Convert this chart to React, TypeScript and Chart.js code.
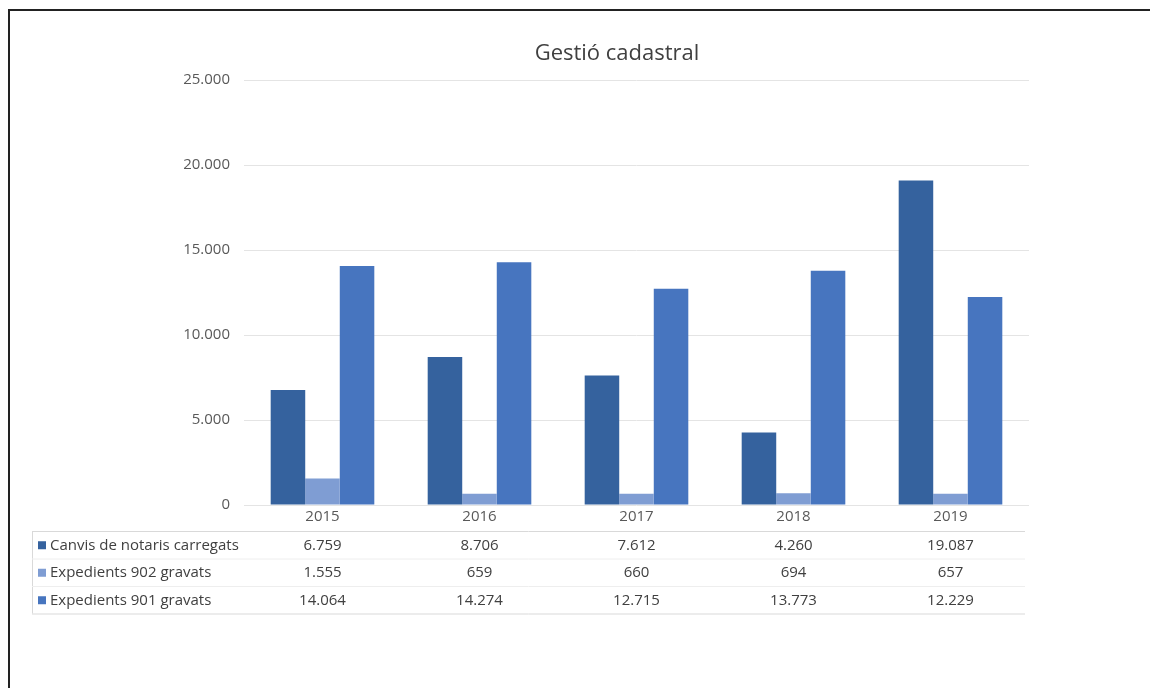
import React, { useEffect, useRef } from "react";
import { Chart, registerables } from "chart.js";

Chart.register(...registerables);

const title = "Gestió cadastral";
const categories = ["2015", "2016", "2017", "2018", "2019"];
const seriesNames = ["Canvis de notaris carregats", "Expedients 902 gravats", "Expedients 901 gravats"];
const canvisNotaris = [6759, 8706, 7612, 4260, 19087];
const expedients902 = [1555, 659, 660, 694, 657];
const expedients901 = [14064, 14274, 12715, 13773, 12229];
const seriesColors = ["#35629E", "#7F9DD3", "#4775BF"];
const yTicks = [0, 5000, 10000, 15000, 20000, 25000];

const FONT = "'Open Sans', 'Noto Sans', sans-serif";
const fmt = (v: number) => v.toLocaleString("de-DE");

const tablePlugin = {
  id: "tablePlugin",
  afterDraw(chart: any) {
    const ctx = chart.ctx as CanvasRenderingContext2D;
    const xs = chart.scales.x;
    const data = [canvisNotaris, expedients902, expedients901];
    ctx.save();
    // title
    ctx.fillStyle = "#404040";
    ctx.font = `22px ${FONT}`;
    ctx.textAlign = "center";
    ctx.textBaseline = "middle";
    ctx.fillText(title, 617, 54);

    // table lines
    const left = 32;
    const right = chart.chartArea.right - 4;
    const top = 531;
    const rowH = 27.5;
    ctx.strokeStyle = "#d9d9d9";
    ctx.lineWidth = 1;
    ctx.beginPath();
    ctx.moveTo(left, top + 0.5);
    ctx.lineTo(right, top + 0.5);
    ctx.moveTo(left, top + rowH * 3 + 0.5);
    ctx.lineTo(right, top + rowH * 3 + 0.5);
    ctx.moveTo(left + 0.5, top);
    ctx.lineTo(left + 0.5, top + rowH * 3);
    ctx.stroke();
    ctx.strokeStyle = "#eeeeee";
    ctx.beginPath();
    for (let r = 1; r < 3; r++) {
      ctx.moveTo(left, top + rowH * r + 0.5);
      ctx.lineTo(right, top + rowH * r + 0.5);
    }
    ctx.stroke();

    ctx.font = `15px ${FONT}`;
    ctx.textBaseline = "middle";
    for (let r = 0; r < 3; r++) {
      const cy = top + rowH * r + rowH / 2 + 0.5;
      ctx.fillStyle = seriesColors[r];
      ctx.fillRect(38, cy - 4, 8, 8);
      ctx.fillStyle = "#404040";
      ctx.textAlign = "left";
      ctx.fillText(seriesNames[r], 50, cy);
      ctx.textAlign = "center";
      data[r].forEach((v, i) => {
        ctx.fillText(fmt(v), xs.getPixelForValue(i), cy);
      });
    }
    ctx.restore();
  },
};

export default function App() {
  const ref = useRef<HTMLCanvasElement>(null);
  useEffect(() => {
    if (!ref.current) return;
    const chart = new Chart(ref.current, {
      type: "bar",
      data: {
        labels: categories,
        datasets: [
          { label: seriesNames[0], data: canvisNotaris, backgroundColor: seriesColors[0] },
          { label: seriesNames[1], data: expedients902, backgroundColor: seriesColors[1] },
          { label: seriesNames[2], data: expedients901, backgroundColor: seriesColors[2] },
        ],
      },
      options: {
        animation: false,
        responsive: false,
        maintainAspectRatio: false,
        layout: { padding: { left: 0, right: 121, top: 80, bottom: 0 } },
        datasets: { bar: { categoryPercentage: 0.66, barPercentage: 1 } },
        plugins: { legend: { display: false }, title: { display: false }, tooltip: { enabled: false } },
        scales: {
          x: {
            grid: { display: false, drawTicks: false },
            border: { display: false },
            ticks: { color: "#595959", font: { family: FONT, size: 15 }, padding: 3 },
            afterFit: (s: any) => { s.height = 183; },
          },
          y: {
            min: 0,
            max: 25000,
            afterBuildTicks: (s: any) => { s.ticks = yTicks.map((v) => ({ value: v })); },
            grid: { color: "#e4e4e4", drawTicks: false },
            border: { display: false },
            ticks: {
              color: "#595959",
              font: { family: FONT, size: 15 },
              padding: 14,
              callback: (v: any) => fmt(Number(v)),
            },
            afterFit: (s: any) => { s.width = 244; },
          },
        },
      },
      plugins: [tablePlugin],
    });
    return () => chart.destroy();
  }, []);
  return (
    <div style={{ position: "fixed", left: 0, top: 0, width: 1150, height: 688, overflow: "hidden", background: "#fff" }}>
      <canvas ref={ref} width={1150} height={688} style={{ position: "absolute", left: 0, top: 0 }} />
      <div style={{ position: "absolute", left: 8, top: 9, width: 2000, height: 2000, borderLeft: "2px solid #222", borderTop: "2px solid #222" }} />
    </div>
  );
}
